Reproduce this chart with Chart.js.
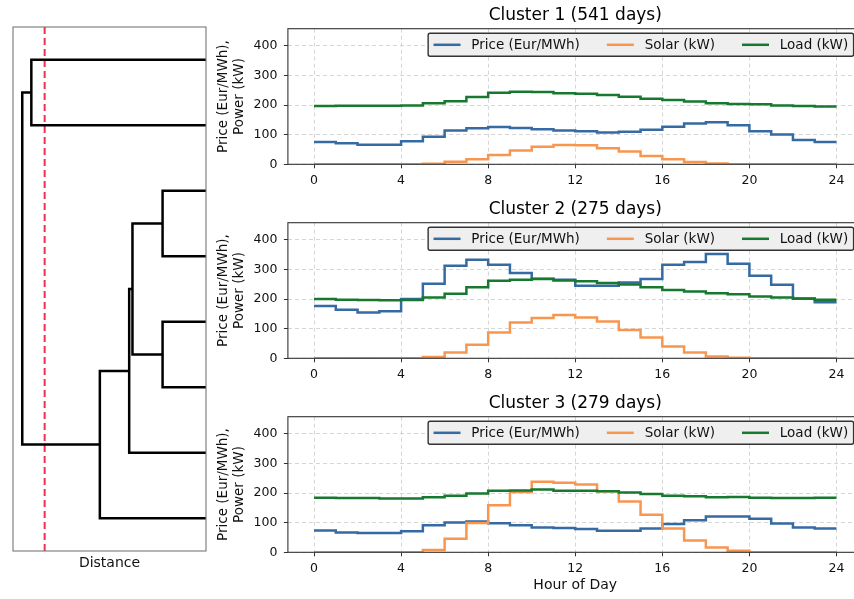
<!DOCTYPE html>
<html>
<head>
<meta charset="utf-8">
<script src="https://cdn.jsdelivr.net/npm/chart.js@4.4.1/dist/chart.umd.min.js"></script>
<style>
  html, body { margin: 0; padding: 0; background: #fff; overflow: hidden; }
  #wrap { position: relative; width: 854px; height: 599px; overflow: hidden; }
  canvas { position: absolute; }
</style>
</head>
<body>
<div id="wrap">
  <canvas id="dendro" width="215" height="599" style="left:0;top:0"></canvas>
  <canvas id="c1" width="670" height="194" style="left:200px;top:0"></canvas>
  <canvas id="c2" width="670" height="194" style="left:200px;top:194px"></canvas>
  <canvas id="c3" width="670" height="211" style="left:200px;top:388px"></canvas>
</div>
<script>
// hours of day (step plot, last value held until 24)
const hours = [0,1,2,3,4,5,6,7,8,9,10,11,12,13,14,15,16,17,18,19,20,21,22,23,24];
const xTicks = [0,4,8,12,16,20,24];
const yTicks = [0,100,200,300,400];
const seriesNames = ['Price (Eur/MWh)', 'Solar (kW)', 'Load (kW)'];
const seriesColors = ['#356aa3', '#f8964f', '#16792f'];
const clusterTitles = ['Cluster 1 (541 days)', 'Cluster 2 (275 days)', 'Cluster 3 (279 days)'];

// cluster 1
const price1 = [75,71,66,66,78,93,114,122,126,123,118,114,112,107,110,117,127,138,142,132,112,101,82,75];
const solar1 = [0,0,0,0,0,2,9,17,31,47,59,65,64,54,43,28,17,8,3,0,0,0,0,0];
const load1  = [197,198,198,198,199,206,213,227,242,245,244,240,238,234,228,221,217,212,206,204,203,199,197,195];

// cluster 2
const price2 = [177,164,155,159,200,252,313,333,316,288,269,265,245,245,256,268,316,325,352,319,279,248,201,189];
const solar2 = [0,0,0,0,0,4,20,46,87,121,136,146,138,124,96,70,40,20,6,2,0,0,0,0];
const load2  = [200,198,197,196,197,205,218,240,262,265,268,263,260,254,249,240,231,226,220,216,209,205,202,198];

// cluster 3
const price3 = [74,67,65,65,71,91,101,104,98,91,84,82,79,73,73,80,96,108,121,121,113,97,84,80];
const solar3 = [0,0,0,0,0,8,46,99,159,204,238,235,229,206,172,127,80,40,16,5,0,0,0,0];
const load3  = [184,183,183,182,182,186,191,199,208,209,212,208,208,206,202,197,191,189,186,187,184,183,183,184];

// dendrogram, scipy style coords (leaf positions / merge distances)
const dendroIcoord = [[5,5,15,15],[25,25,35,35],[45,45,55,55],[30,30,50,50],[40,40,65,65],[52.5,52.5,75,75],[10,10,63.75,63.75]];
const dendroDcoord = [[0,9.05,9.05,0],[0,2.25,2.25,0],[0,2.25,2.25,0],[2.25,3.81,3.81,2.25],[3.81,3.98,3.98,0],[3.98,5.5,5.5,0],[9.05,9.52,9.52,5.5]];
const cutDistance = 8.36;

Chart.defaults.font.family = "'DejaVu Sans', sans-serif";
Chart.defaults.color = '#111';

function steps(vals) {
  return hours.map((h, i) => ({ x: h, y: vals[Math.min(i, vals.length - 1)] }));
}

// box around the plot area (matplotlib spines)
function framePlugin(color) {
  return {
    id: 'frame',
    afterDatasetsDraw(chart) {
      const { ctx, chartArea: a } = chart;
      ctx.save();
      ctx.strokeStyle = color;
      ctx.lineWidth = 1.1;
      ctx.strokeRect(a.left, a.top, a.right - a.left, a.bottom - a.top);
      ctx.restore();
    }
  };
}

// legend in upper right, 3 columns, with frame
const boxLegend = {
  id: 'boxLegend',
  afterDraw(chart) {
    const { ctx, chartArea } = chart;
    const fs = 13.5;
    ctx.save();
    ctx.font = fs + "px 'DejaVu Sans'";
    const widths = seriesNames.map(t => ctx.measureText(t).width);
    const pad = 5.4, handle = 27, tpad = 10.8, colsp = 27;
    const w = pad * 2 + widths.reduce((a, b) => a + b, 0) + 3 * (handle + tpad) + 2 * colsp;
    const h = 23;
    const right = chartArea.right - 9;
    const left = right - w;
    const top = chartArea.top + 4.6;
    ctx.beginPath();
    ctx.roundRect(left, top, w, h, 2);
    ctx.fillStyle = '#efefef';
    ctx.fill();
    ctx.lineWidth = 1.4;
    ctx.strokeStyle = '#333';
    ctx.stroke();
    let x = left + pad;
    const cy = top + h / 2;
    ctx.textBaseline = 'middle';
    seriesNames.forEach((name, i) => {
      ctx.beginPath();
      ctx.moveTo(x, cy);
      ctx.lineTo(x + handle, cy);
      ctx.strokeStyle = seriesColors[i];
      ctx.lineWidth = 2.5;
      ctx.stroke();
      x += handle + tpad;
      ctx.fillStyle = '#111';
      ctx.fillText(name, x, cy + 0.5);
      x += widths[i] + colsp;
    });
    ctx.restore();
  }
};

function makePanel(id, title, price, solar, load, isLast) {
  const grid = { color: '#cccccc', lineWidth: 0.8, tickLength: 4, tickColor: '#333', tickWidth: 1 };
  new Chart(document.getElementById(id), {
    type: 'line',
    data: {
      datasets: [
        { label: seriesNames[0], data: steps(price), borderColor: seriesColors[0], order: 2 },
        { label: seriesNames[1], data: steps(solar), borderColor: seriesColors[1], order: 1 },
        { label: seriesNames[2], data: steps(load), borderColor: seriesColors[2], order: 0 }
      ]
    },
    options: {
      responsive: false,
      animation: false,
      layout: { padding: { left: 0, right: 7.4, top: 0, bottom: 0 } },
      elements: {
        line: { borderWidth: 2.5, stepped: 'before', fill: false, tension: 0 },
        point: { radius: 0 }
      },
      plugins: {
        legend: { display: false },
        tooltip: { enabled: false },
        title: {
          display: true, text: title, color: '#000', fullSize: false,
          font: { size: 17, weight: 'normal' },
          padding: { top: 5, bottom: 3.3 }
        }
      },
      scales: {
        x: {
          type: 'linear', min: -1.2, max: 25.2,
          afterBuildTicks(s) { s.ticks = xTicks.map(v => ({ value: v })); },
          afterFit(s) { s.height = isLast ? 46.7 : 29.7; },
          ticks: { font: { size: 12.5 }, padding: 5, maxRotation: 0, autoSkip: false, color: '#111' },
          grid: grid,
          border: { display: false, dash: [4, 3] },
          title: {
            display: isLast, text: 'Hour of Day', color: '#111',
            font: { size: 14 }, padding: { top: 0, bottom: 4.9 }
          }
        },
        y: {
          type: 'linear', min: 0, max: 458,
          afterBuildTicks(s) { s.ticks = yTicks.map(v => ({ value: v })); },
          afterFit(s) { s.width = 87.9; },
          ticks: { font: { size: 12.5 }, padding: 6.5, color: '#111' },
          grid: grid,
          border: { display: false, dash: [4, 3] },
          title: {
            display: true, text: ['Price (Eur/MWh),', 'Power (kW)'], color: '#111',
            font: { size: 13.5 }, padding: { top: 15.2, bottom: 0 }
          }
        }
      }
    },
    plugins: [framePlugin('#333'), boxLegend]
  });
}

makePanel('c1', clusterTitles[0], price1, solar1, load1, false);
makePanel('c2', clusterTitles[1], price2, solar2, load2, false);
makePanel('c3', clusterTitles[2], price3, solar3, load3, true);

// dendrogram
const linkSets = dendroIcoord.map((ic, i) => ({
  data: ic.map((y, j) => ({ x: dendroDcoord[i][j], y: y })),
  showLine: true, borderColor: '#000', borderWidth: 2.5, pointRadius: 0
}));
linkSets.push({
  data: [{ x: cutDistance, y: 0 }, { x: cutDistance, y: 80 }],
  showLine: true, borderColor: '#f0304f', borderWidth: 2, borderDash: [7, 4], pointRadius: 0
});

new Chart(document.getElementById('dendro'), {
  type: 'scatter',
  data: { datasets: linkSets },
  options: {
    responsive: false,
    animation: false,
    layout: { padding: { left: 13, right: 9, top: 27, bottom: 0 } },
    plugins: { legend: { display: false }, tooltip: { enabled: false } },
    scales: {
      x: {
        type: 'linear', reverse: true, min: 0, max: 10,
        ticks: { display: false },
        grid: { display: false },
        border: { display: false },
        afterFit(s) { s.height = 48; },
        title: { display: true, text: 'Distance', color: '#111', font: { size: 14 }, padding: { top: 0, bottom: 27.6 } }
      },
      y: { type: 'linear', reverse: true, min: 0, max: 80, display: false }
    }
  },
  plugins: [framePlugin('#777')]
});
</script>
</body>
</html>
